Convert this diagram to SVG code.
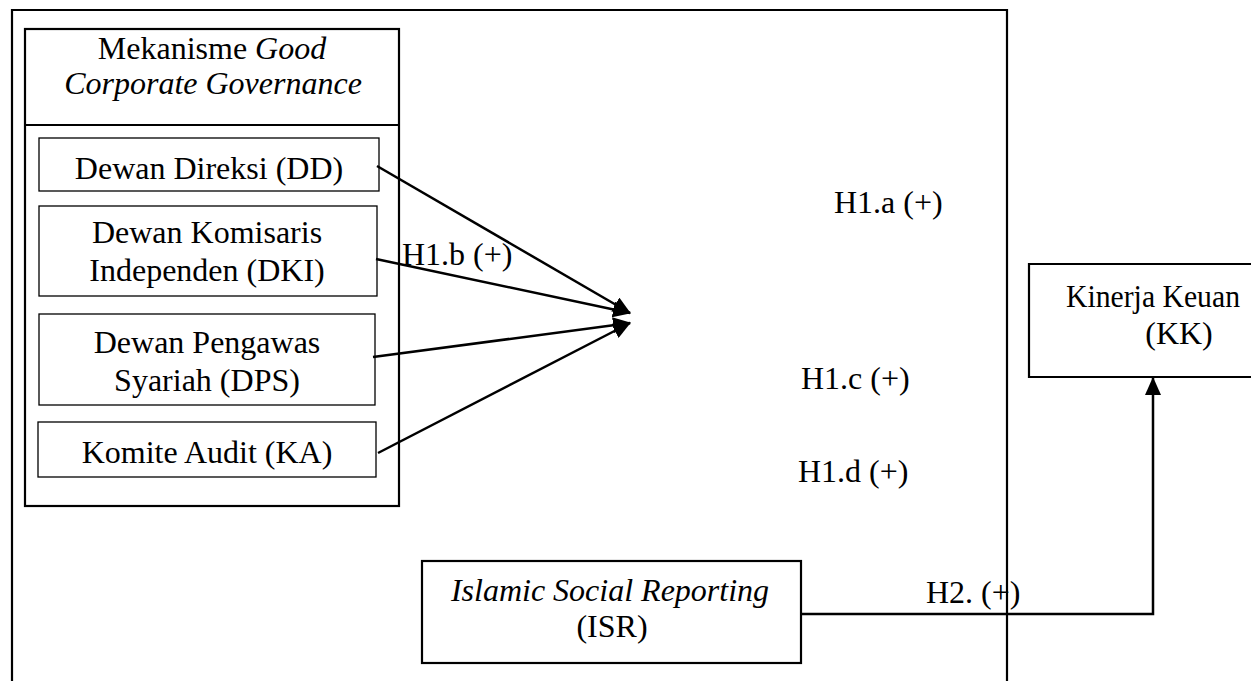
<svg xmlns="http://www.w3.org/2000/svg" width="1251" height="681" viewBox="0 0 1251 681">
<style>
text{font-family:"Liberation Serif","Times New Roman",serif;font-size:32px;fill:#000}
.c{text-anchor:middle}
.i{font-style:italic}
.thick{fill:none;stroke:#000;stroke-width:2.2}
.thin{fill:#fff;stroke:#000;stroke-width:1.3}
.conn{fill:none;stroke:#000;stroke-width:2.5}
</style>
<defs>
<marker id="ah" markerUnits="userSpaceOnUse" markerWidth="18" markerHeight="16" viewBox="0 0 18 16" refX="17" refY="8" orient="auto">
<path d="M0,0 L18,8 L0,16 Z" fill="#000"/>
</marker>
</defs>
<g id="frame">
<path class="thick" d="M12,690 V10 H1007 V690"/>
</g>
<g id="gcg">
<rect class="thick" x="25" y="29" width="374" height="477"/>
<line class="thick" x1="25" y1="125" x2="399" y2="125"/>
<text class="c" x="212" y="59">Mekanisme <tspan class="i">Good</tspan></text>
<text class="c i" x="213" y="94">Corporate Governance</text>
</g>
<g id="dd">
<rect class="thin" x="39" y="138" width="340" height="53"/>
<text class="c" x="209" y="179">Dewan Direksi (DD)</text>
</g>
<g id="dki">
<rect class="thin" x="39" y="206" width="338" height="90"/>
<text class="c" x="207" y="243">Dewan Komisaris</text>
<text class="c" x="207" y="281">Independen (DKI)</text>
</g>
<g id="dps">
<rect class="thin" x="39" y="314" width="336" height="91"/>
<text class="c" x="207" y="353">Dewan Pengawas</text>
<text class="c" x="207" y="391">Syariah (DPS)</text>
</g>
<g id="ka">
<rect class="thin" x="38" y="422" width="338" height="55"/>
<text class="c" x="207" y="463">Komite Audit (KA)</text>
</g>
<g id="isr">
<rect class="thick" x="422" y="561" width="379" height="102"/>
<text class="c i" x="610" y="601">Islamic Social Reporting</text>
<text class="c" x="612" y="637">(ISR)</text>
</g>
<g id="kk">
<path class="thick" d="M1252,264 H1029 V377 H1252"/>
<text x="1066" y="307" textLength="174" lengthAdjust="spacingAndGlyphs">Kinerja Keuan</text>
<text class="c" x="1179" y="344">(KK)</text>
</g>
<g id="connectors">
<line class="conn" x1="377" y1="166" x2="630" y2="313" marker-end="url(#ah)"/>
<line class="conn" x1="376" y1="259" x2="630" y2="313" marker-end="url(#ah)"/>
<line class="conn" x1="373" y1="357" x2="630" y2="323" marker-end="url(#ah)"/>
<line class="conn" x1="378" y1="453" x2="630" y2="323" marker-end="url(#ah)"/>
<path class="conn" d="M801,614 H1153 V378" marker-end="url(#ah)"/>
</g>
<g id="labels">
<text x="834" y="213">H1.a (+)</text>
<text x="402" y="265">H1.b (+)</text>
<text x="801" y="389">H1.c (+)</text>
<text x="798" y="482">H1.d (+)</text>
<text x="926" y="603">H2. (+)</text>
</g>
</svg>
